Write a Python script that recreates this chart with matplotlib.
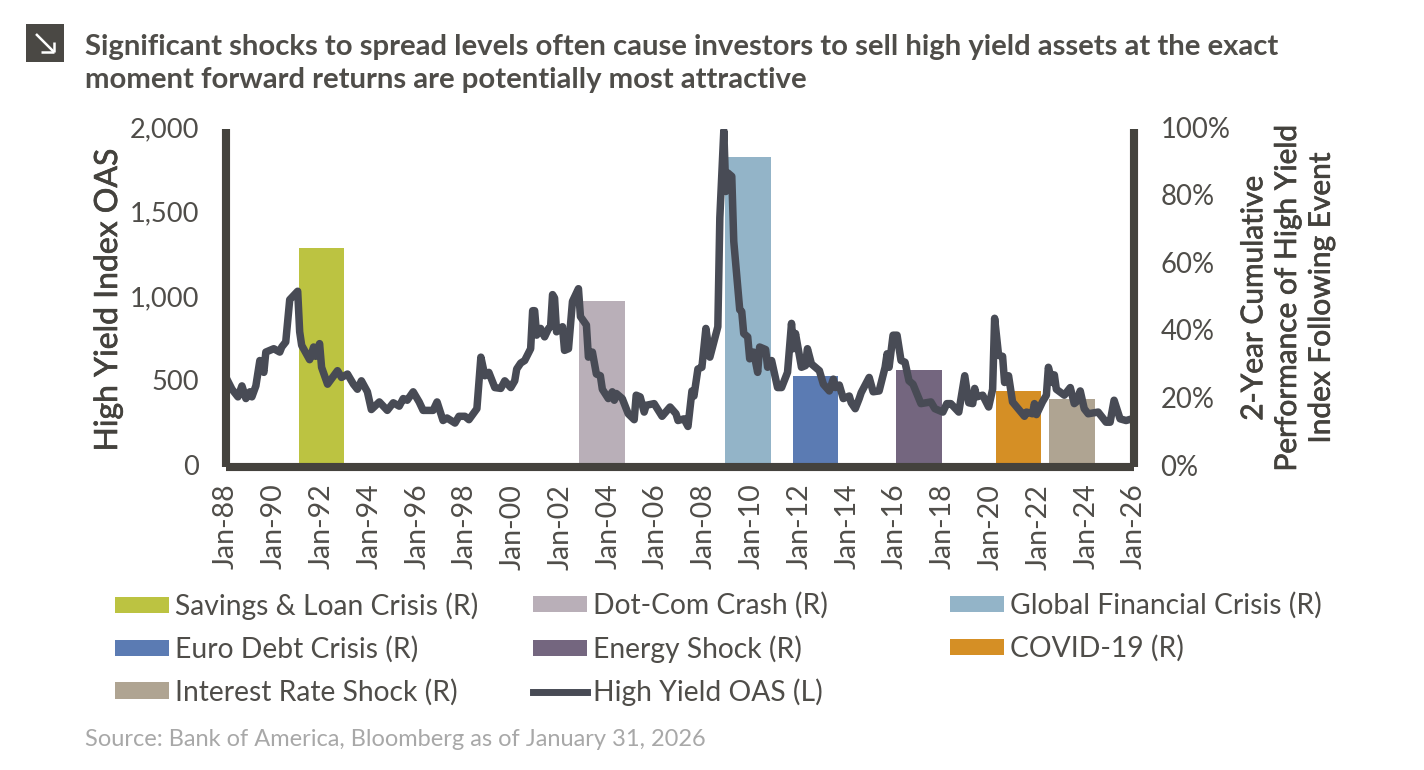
import matplotlib
matplotlib.use("Agg")
import matplotlib.pyplot as plt
import matplotlib.patheffects as pe
from matplotlib.lines import Line2D
from matplotlib.patches import Patch, Rectangle
from matplotlib.transforms import ScaledTranslation

plt.rcParams['font.family'] = ['Lato', 'DejaVu Sans']

# months elapsed since Jan-88, and High Yield OAS (L)
oas_months = [0,3,6,8,10,12,13,15,17,19,20,24,27,28,30,32,36,37,38,42,44,45,47,48,51,56,58,61,64,66,68,71,73,77,81,84,87,89,91,94,97,99,104,106,109,111,115,117,120,122,126,128,130,132,135,138,140,143,145,146,148,150,153,154,155,156,158,160,162,163,164,165,166,169,170,172,174,177,178,181,182,184,186,188,189,192,194,195,196,199,202,205,206,208,210,211,215,219,223,226,227,230,232,234,235,237,239,241,243,247,248,250,251,252,254,255,258,259,260,262,263,265,267,268,271,272,274,277,279,282,284,285,286,289,291,292,294,298,300,303,305,306,308,310,313,314,316,318,319,323,325,328,331,332,333,335,337,339,341,343,345,349,354,356,360,362,364,368,371,373,375,376,377,380,383,385,386,388,390,391,393,395,401,402,405,406,407,410,412,413,415,416,417,421,424,426,427,429,431,433,438,442,444,446,449,452,455]
oas_values = [530,460,415,480,405,445,415,480,630,560,680,700,680,710,740,990,1040,800,720,635,710,655,730,590,490,570,530,550,490,460,510,445,340,385,335,380,360,405,395,445,385,335,335,385,275,290,260,300,300,280,345,650,540,560,470,465,510,470,510,580,615,630,700,925,925,780,820,770,820,830,1020,1000,800,830,690,700,980,1055,890,840,650,680,550,540,460,405,445,395,435,405,315,280,425,415,325,365,375,300,355,315,275,285,240,450,420,580,590,820,650,830,1475,1990,1630,1740,1720,1335,930,920,790,770,640,680,560,710,695,590,630,470,470,560,850,700,790,590,600,700,610,570,490,450,520,470,485,405,420,380,345,405,440,530,445,450,590,670,590,780,780,630,620,510,490,375,385,345,325,375,375,325,540,380,375,465,415,425,355,460,880,660,655,500,540,385,300,325,315,375,310,385,425,590,500,545,460,425,470,375,385,450,345,315,325,265,265,395,285,275,285]

# 2-Year Cumulative Performance (R)
event_names = ['Savings & Loan Crisis (R)', 'Dot-Com Crash (R)', 'Global Financial Crisis (R)',
               'Euro Debt Crisis (R)', 'Energy Shock (R)', 'COVID-19 (R)', 'Interest Rate Shock (R)']
event_months = [48, 189, 262, 296, 348, 398, 425]
event_perf = [64.8, 49.0, 91.6, 27.0, 28.8, 22.4, 20.1]
event_colors = ['#bcc341', '#b9afb8', '#93b4c8', '#5b7bb3', '#74667f', '#d58f25', '#afa492']

tick_months = list(range(0, 457, 24))
tick_labels = ['Jan-88','Jan-90','Jan-92','Jan-94','Jan-96','Jan-98','Jan-00','Jan-02','Jan-04','Jan-06',
               'Jan-08','Jan-10','Jan-12','Jan-14','Jan-16','Jan-18','Jan-20','Jan-22','Jan-24','Jan-26']
left_ticks = [0, 500, 1000, 1500, 2000]
left_labels = ['0', '500', '1,000', '1,500', '2,000']
right_ticks = [0, 20, 40, 60, 80, 100]
right_labels = ['0%', '20%', '40%', '60%', '80%', '100%']

W, H = 1424, 770
DARK = '#44423d'
TEXT = '#4f4d49'
LINE = '#484b55'
fig = plt.figure(figsize=(W/100, H/100), dpi=100, facecolor='white')
L, R, T, B = 226, 1134, 129, 467
ax = fig.add_axes([L/W, 1-B/H, (R-L)/W, (B-T)/H])
ax2 = ax.twinx()

ax.set_xlim(0, 456)
ax.set_ylim(0, 2000)
ax2.set_ylim(0, 100)

ax.set_zorder(2)
ax2.set_zorder(1)
ax.patch.set_visible(False)
ax2.bar(event_months, event_perf, width=23, color=event_colors, linewidth=0)
ax.plot(oas_months, oas_values, color=LINE, lw=5.4, solid_joinstyle='round', solid_capstyle='round')

for a in (ax, ax2):
    a.spines['top'].set_visible(False)
    for s in ('left', 'right', 'bottom'):
        a.spines[s].set_linewidth(5.8)
        a.spines[s].set_color(DARK)
        a.spines[s].set_capstyle('butt')
    a.tick_params(length=0)

ax.set_xticks(tick_months)
ax.set_xticklabels(tick_labels, rotation=90, fontsize=20.5, color=TEXT)
ax.tick_params(axis='x', pad=12)
ax.set_yticks(left_ticks)
ax.set_yticklabels(left_labels, fontsize=19.6, color=TEXT)
ax.tick_params(axis='y', pad=19.4)
ax2.set_yticks(right_ticks)
ax2.set_yticklabels(right_labels, fontsize=19.8, color=TEXT)
ax2.tick_params(axis='y', pad=19)
lift = ScaledTranslation(0, 2/100, fig.dpi_scale_trans)
for lab in ax.get_yticklabels() + ax2.get_yticklabels():
    lab.set_transform(lab.get_transform() + lift)

medium = [pe.withStroke(linewidth=0.5, foreground=DARK)]
fig.text(108/W, 1-300/H, 'High Yield Index OAS', rotation=90, fontsize=23, color=DARK,
         ha='center', va='center', path_effects=medium)
fig.text(1287/W, 1-298/H, '2-Year Cumulative\nPerformance of High Yield\nIndex Following Event',
         rotation=90, fontsize=21.5, color=DARK, ha='center', va='center',
         multialignment='center', linespacing=1.25, path_effects=medium)

fig.text(85/W, 1-47/H, 'Significant shocks to spread levels often cause investors to sell high yield assets at the exact',
         fontsize=21.1, weight='bold', color=TEXT, ha='left', va='center')
fig.text(85/W, 1-80/H, 'moment forward returns are potentially most attractive',
         fontsize=21.1, weight='bold', color=TEXT, ha='left', va='center')
fig.text(85/W, 1-739/H, 'Source: Bank of America, Bloomberg as of January 31, 2026',
         fontsize=17, color='#a8a8a8', ha='left', va='center')

# arrow badge
fig.add_artist(Rectangle((26/W, 1-62/H), 38/W, 38/H, transform=fig.transFigure, color='#4a4844', lw=0))
for xs, ys in (((36, 54), (34, 52)), ((41, 54), (52, 52)), ((54, 54), (42, 52))):
    fig.add_artist(Line2D([x/W for x in xs], [1-y/H for y in ys], transform=fig.transFigure,
                          color='white', lw=1.8, solid_capstyle='butt'))

# legend columns
def col(items, x, y):
    hs = []
    for n in items:
        if n == 'High Yield OAS (L)':
            hs.append(Line2D([], [], color=LINE, lw=5.0, label=n))
        else:
            hs.append(Patch(color=event_colors[event_names.index(n)], label=n, lw=0))
    fig.legend(handles=hs, loc='upper left', bbox_to_anchor=(x/W, 1-y/H), frameon=False,
               prop={'size': 20.3, 'family': 'Lato'}, labelcolor=TEXT, handlelength=1.9,
               handleheight=0.5, handletextpad=0.23, labelspacing=0.57, borderpad=0, borderaxespad=0)

col([event_names[0], event_names[3], event_names[6]], 115, 592)
col([event_names[1], event_names[4], 'High Yield OAS (L)'], 533, 592)
col([event_names[2], event_names[5]], 950, 592)

fig.savefig('out.png', dpi=100)
